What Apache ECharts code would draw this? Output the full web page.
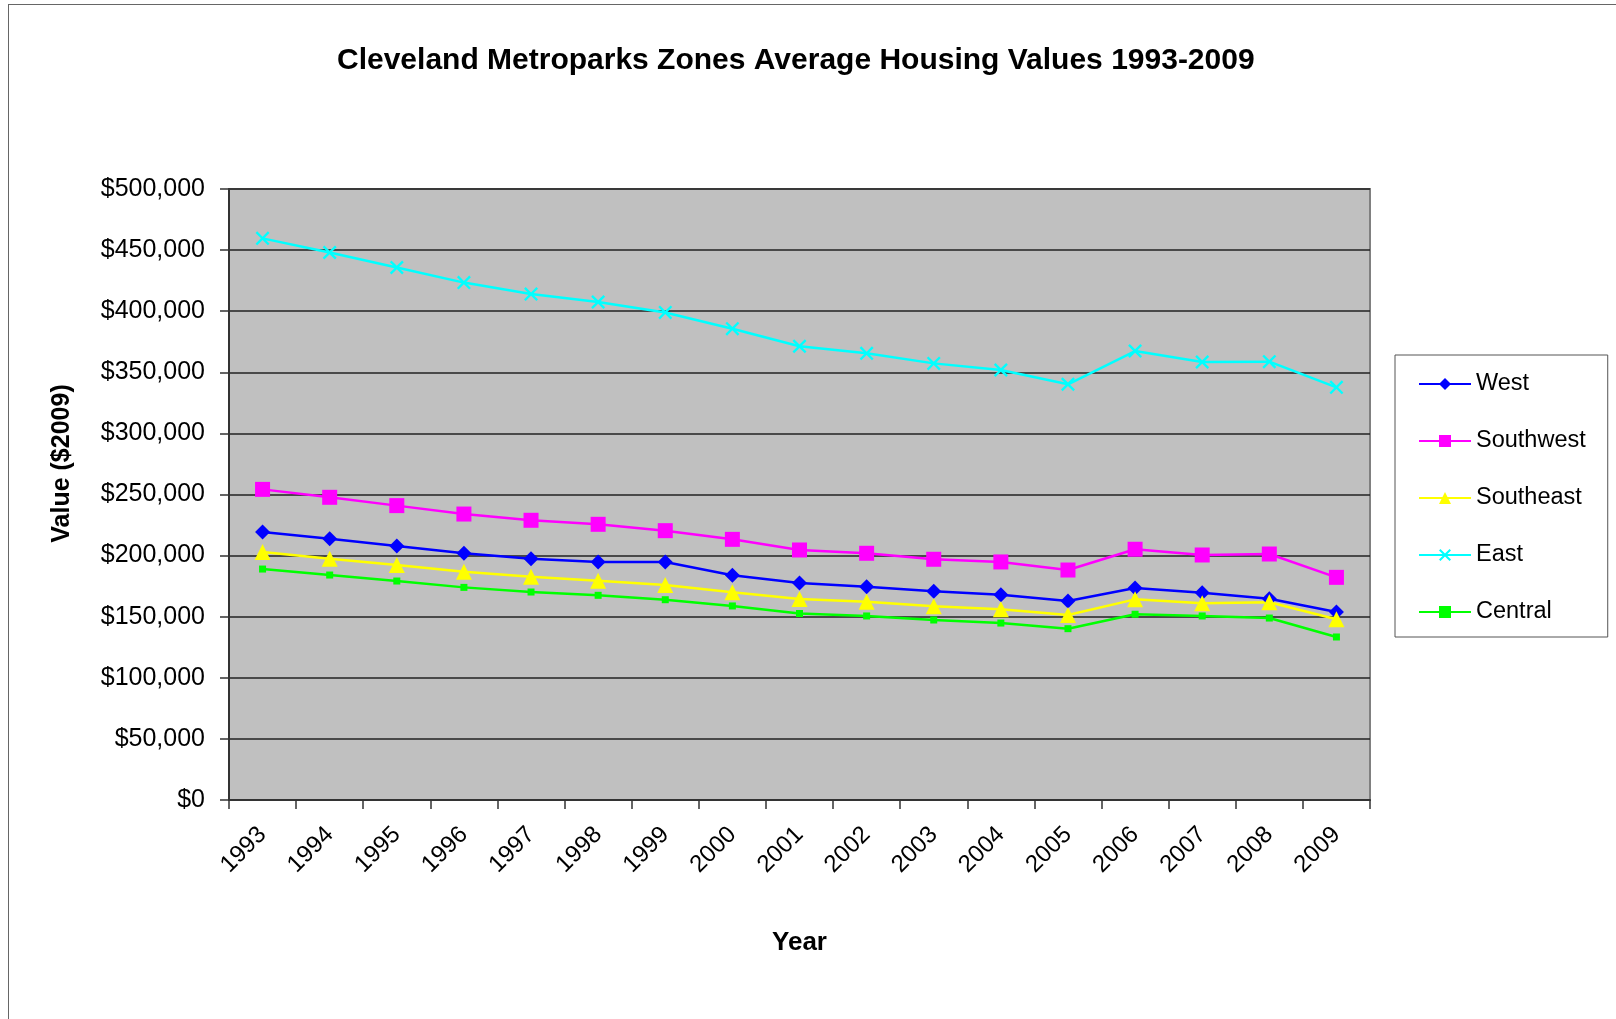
<!DOCTYPE html>
<html>
<head>
<meta charset="utf-8">
<script src="https://cdn.jsdelivr.net/npm/echarts@6/dist/echarts.min.js"></script>
<style>
  html, body { margin: 0; padding: 0; background: #fff; }
  #frame { position: absolute; left: 8px; top: 4px; width: 1608px; height: 1015px;
           border-left: 1px solid #666; border-top: 1px solid #666; }
  #main { position: absolute; left: 0; top: 0; width: 1616px; height: 1019px; }
</style>
</head>
<body>
<div id="frame"></div>
<div id="main"></div>
<script>
// values, constant 2009 dollars
var years = ['1993', '1994', '1995', '1996', '1997', '1998', '1999', '2000', '2001',
             '2002', '2003', '2004', '2005', '2006', '2007', '2008', '2009'];
var west = [219300, 213800, 207900, 201900, 197500, 194800, 194800, 183900, 177500,
            174600, 170800, 168000, 162800, 173500, 169600, 164700, 153800];
var southwest = [254200, 247700, 240900, 234000, 228900, 225600, 220400, 213300, 204600,
                 201900, 197000, 194800, 188200, 205200, 200500, 201300, 182200];
var southeast = [203000, 197500, 192300, 186800, 182700, 179500, 175900, 170000, 164500,
                 162300, 158500, 156000, 151400, 164200, 161000, 161800, 147900];
var east = [459600, 448000, 435800, 423400, 414000, 407500, 399000, 385700, 371300,
            365500, 357300, 351900, 340200, 367400, 358400, 358700, 337700];
var central = [189000, 184100, 179200, 174000, 170200, 167500, 163900, 158800, 152600,
               150600, 147300, 144800, 140200, 152000, 150600, 148900, 133400];

var FONT = 'Liberation Sans, Arial, sans-serif';
var crossPath = 'path://M0,1.2L1.2,0L5,3.8L8.8,0L10,1.2L6.2,5L10,8.8L8.8,10L5,6.2L1.2,10L0,8.8L3.8,5Z';

function line(name, data, color, symbol, size) {
    return {
        name: name,
        type: 'line',
        data: data,
        symbol: symbol,
        symbolSize: size,
        showAllSymbol: true,
        lineStyle: { color: color, width: 2.5 },
        itemStyle: { color: color, borderWidth: 0 },
        emphasis: { disabled: true },
        animation: false
    };
}

var chart = echarts.init(document.getElementById('main'));
chart.setOption({
    backgroundColor: 'transparent',
    textStyle: { fontFamily: FONT },
    title: {
        text: 'Cleveland Metroparks Zones Average Housing Values 1993-2009',
        left: 332,
        top: 41,
        textStyle: { fontFamily: FONT, fontSize: 30, fontWeight: 'bold', color: '#000' }
    },
    legend: {
        orient: 'vertical',
        left: 1395,
        top: 355,
        padding: [17, 22, 13, 23],
        itemWidth: 52,
        itemHeight: 15,
        itemGap: 33,
        borderColor: '#555',
        borderWidth: 1,
        backgroundColor: '#fff',
        textStyle: { fontFamily: FONT, fontSize: 23.5, color: '#000', lineHeight: 24 },
        data: ['West', 'Southwest', 'Southeast', 'East', 'Central']
    },
    grid: {
        left: 229, right: 246, top: 189, bottom: 219,
        show: true,
        backgroundColor: '#c0c0c0',
        borderColor: '#808080',
        borderWidth: 2
    },
    xAxis: {
        type: 'category',
        data: years,
        boundaryGap: true,
        name: 'Year',
        nameLocation: 'middle',
        nameGap: 130,
        nameTextStyle: { fontFamily: FONT, fontSize: 26, fontWeight: 'bold', color: '#000' },
        axisLine: { lineStyle: { color: '#333', width: 2 } },
        axisTick: { show: true, interval: 0, length: 9, lineStyle: { color: '#333', width: 1.5 } },
        axisLabel: { interval: 0, rotate: 45, margin: 31, fontFamily: FONT, fontSize: 24, color: '#000' }
    },
    yAxis: {
        type: 'value',
        min: 0,
        max: 500000,
        interval: 50000,
        name: 'Value ($2009)',
        nameLocation: 'middle',
        nameGap: 154,
        nameTextStyle: { fontFamily: FONT, fontSize: 25, fontWeight: 'bold', color: '#000',
                         padding: [0, 0, 0, 62] },
        axisLine: { show: true, lineStyle: { color: '#333', width: 2 } },
        axisTick: { show: true, length: 9, lineStyle: { color: '#333', width: 1.5 } },
        axisLabel: {
            margin: 24, fontFamily: FONT, fontSize: 25, color: '#000',
            formatter: function (v) { return '$' + v.toLocaleString('en-US'); }
        },
        splitLine: { show: true, lineStyle: { color: '#222', width: 1.5 } }
    },
    series: [
        line('West', west, '#0000ff', 'diamond', 15),
        line('Southwest', southwest, '#ff00ff', 'rect', 15),
        line('Southeast', southeast, '#ffff00', 'triangle', 16),
        line('East', east, '#00ffff', crossPath, 14),
        line('Central', central, '#00ff00', 'rect', 7)
    ]
});
</script>
</body>
</html>
